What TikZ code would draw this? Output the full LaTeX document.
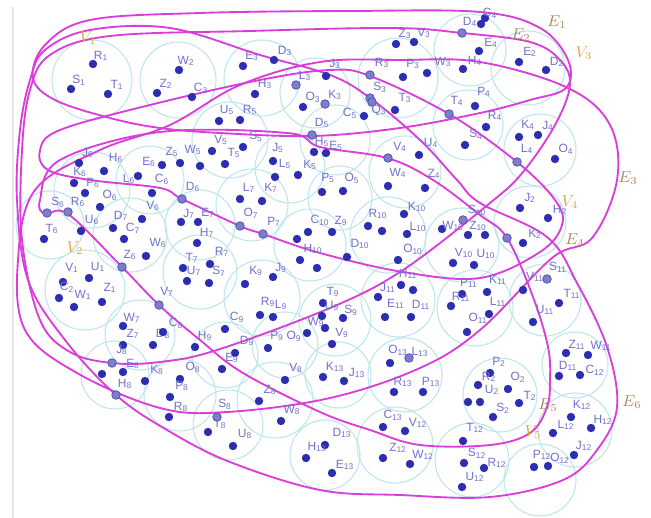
\documentclass[tikz,border=0pt]{standalone}
\usepackage{fontspec}
\setsansfont{Liberation Sans}
\begin{document}
\begin{tikzpicture}[
  x=0.2mm, y=-0.2mm,
  cell/.style={draw=cellcyan,line width=.6pt},
  hedge/.style={draw=hypermag,line width=1.05pt},
  vtx/.style={fill=vblue},
  vtxon/.style={fill=vlight,draw=vblue!85,line width=.4pt},
  vlabel/.style={font=\sffamily\fontsize{6.8}{7}\selectfont,text=vtext,inner sep=0pt},
  elabel/.style={font=\small,text=ebrown,inner sep=0pt},
  clabel/.style={font=\small,text=vorange,inner sep=0pt}
]

\definecolor{cellcyan}{RGB}{188,230,234}
\definecolor{hypermag}{RGB}{218,62,218}
\definecolor{vblue}{RGB}{45,45,175}
\definecolor{vlight}{RGB}{125,125,200}
\definecolor{vtext}{RGB}{112,112,205}
\definecolor{ebrown}{RGB}{172,136,96}
\definecolor{vorange}{RGB}{226,166,62}

\useasboundingbox (0,0) rectangle (651,518);
\fill[white] (0,0) rectangle (651,518);
\draw[black!10,line width=1pt] (13,7) -- (13,518);

% cells
\foreach \cx/\cy/\r in {92/80/40, 178/80/38, 262/78/38, 315/93/35, 398/78/40,
  470/50/36, 528/68/37, 468/125/35, 540/150/36, 230/140/38, 335/140/35,
  290/168/35, 405/172/36, 340/198/32, 92/190/38, 150/180/34, 50/225/34,
  130/235/37, 200/225/35, 252/205/36, 310/245/36, 388/235/38, 462/245/37,
  530/222/36, 85/290/40, 200/272/37, 262/298/38, 335/320/36, 398/300/37,
  475/308/38, 545/300/36, 140/335/35, 115/375/34, 180/395/36, 228/425/35,
  225/355/33, 275/400/38, 338/375/33, 405/375/37, 395/445/38, 325/455/35,
  472/460/37, 500/395/37, 575/365/33, 575/430/37, 540/480/36, 285/345/33}
  \draw[cell] (\cx,\cy) circle (\r);

% hyperedges
% E1: long flat loop along the top
\draw[hedge] plot[smooth cycle,tension=.6] coordinates {(33,78) (45,45) (90,20)
  (200,13) (350,11) (480,12) (540,28) (568,60) (566,88) (530,100) (480,113)
  (400,128) (313,136) (220,133) (160,128) (110,118) (55,100)};
% E2: from the top right corner down to the lower left
\draw[hedge] plot[smooth cycle,tension=.6] coordinates {(30,90) (50,55)
  (110,36) (250,31) (393,28) (462,33) (530,42) (560,60) (570,85) (555,125)
  (523,172) (490,203) (403,270) (330,308) (217,350) (160,362) (112,363)
  (70,352) (40,320) (22,240) (22,150)};
% E3
\draw[hedge] plot[smooth cycle,tension=.6] coordinates {(18,260) (35,190)
  (100,150) (170,125) (240,85) (320,62) (400,60) (480,62) (568,88) (610,125)
  (617,180) (592,238) (552,258) (480,330) (420,368) (330,398) (227,412)
  (160,408) (77,373) (25,330)};
% E4
\draw[hedge] plot[smooth cycle,tension=.6] coordinates {(40,150) (60,130)
  (150,105) (260,80) (330,70) (370,76) (449,114) (517,162) (555,200)
  (562,225) (540,252) (480,278) (403,272) (320,253) (263,234) (240,226)
  (182,199) (160,188) (90,180) (48,170)};
% E5
\draw[hedge] plot[smooth cycle,tension=.6] coordinates {(40,200) (60,160)
  (160,132) (287,133) (320,147) (387,158) (433,180) (480,215) (507,238)
  (533,297) (548,347) (550,380) (547,407) (530,433) (490,445) (420,445)
  (370,430) (320,412) (243,373) (200,340) (159,305) (122,267) (68,214) (45,214)};
% E6: the widest one
\draw[hedge] plot[smooth cycle,tension=.6] coordinates {(30,80) (45,50)
  (90,30) (170,28) (260,55) (330,75) (370,98) (420,140) (457,180) (480,203)
  (547,237) (577,283) (607,347) (617,407) (597,450) (563,480) (490,497)
  (400,495) (320,490) (230,462) (167,430) (116,395) (65,340) (28,280)
  (17,200) (20,130)};

% vertices
\foreach \x/\y/\lx/\ly/\a/\b [count=\k] in {
  93/64/101/56/R/1, 71/89/79/80/S/1, 108/94/117/85/T/1,
  157/93/166/84/Z/2, 179/70/186/61/W/2, 192/97/201/88/C/3,
  243/66/252/56/E/3, 274/60/285/51/D/3, 255/94/265/84/H/3,
  303/107/313/97/O/3, 326/76/335/64/J/3,
  396/44/405/34/Z/3, 414/42/424/33/V/3, 403/77/413/64/P/3,
  427/73/443/62/W/3, 395/110/405/98/T/3,
  481/24/470/22/D/4, 485/18/490/13/C/4, 479/51/491/43/E/4, 463/69/475/61/H/4,
  519/62/530/52/E/2, 546/70/557/62/D/2,
  475/106/484/92/P/4, 486/127/495/116/R/4, 465/145/476/134/S/4,
  519/137/528/125/K/4, 538/135/548/126/J/4, 555/159/566/149/O/4,
  219/121/227/110/U/5, 240/120/250/110/R/5, 212/151/221/140/V/5,
  225/164/234/153/T/5, 243/147/256/136/S/5,
  162/165/149/162/E/6, 180/163/172/152/Z/5, 200/166/193/150/W/5,
  364/116/350/113/C/5, 314/152/322/142/H/5, 326/153/336/146/E/5,
  273/161/278/148/J/5, 275/177/285/164/L/5, 298/175/310/165/K/5,
  322/192/328/178/P/5, 343/191/352/178/O/5,
  419/155/431/143/U/4, 388/186/398/173/W/4, 425/188/434/174/Z/4,
  79/163/88/153/J/6, 104/171/116/158/H/6, 74/183/80/172/K/6,
  85/193/93/183/P/6, 100/207/110/195/O/6, 138/176/129/179/L/6,
  152/193/162/179/C/6, 142/219/153/206/V/6,
  113/228/121/216/D/7, 124/239/133/228/C/7, 146/256/158/243/W/6,
  44/239/52/229/T/6, 81/231/92/220/U/6,
  181/222/189/214/J/7, 198/222/208/213/E/7, 197/243/207/233/H/7,
  240/199/249/188/L/7, 262/201/271/188/K/7,
  183/268/192/258/T/7, 187/281/194/271/U/7, 210/264/222/252/R/7,
  209/283/219/271/S/7,
  245/284/256/271/K/9, 273/277/281/268/J/9, 260/315/268/302/R/9,
  273/317/281/305/L/9, 225/329/237/317/C/9, 195/347/205/336/H/9,
  235/353/247/341/D/9, 268/348/277/336/P/9, 307/333/294/336/O/9,
  222/369/232/358/E/9,
  180/379/193/367/O/8, 170/397/182/386/P/8, 169/417/181/407/R/8,
  208/432/220/424/T/8, 233/446/245/434/U/8,
  285/380/296/368/V/8, 259/401/270/390/Z/8, 281/421/292/410/W/8,
  145/381/157/370/K/8, 123/372/133/364/E/8,
  123/326/132/318/W/7, 123/345/133/334/Z/7, 153/345/163/334/D/8,
  163/332/176/323/C/8,
  63/282/72/268/V/1, 89/278/98/267/U/1, 59/298/67/287/C/2,
  74/307/83/295/W/1, 102/302/110/288/Z/1,
  308/232/320/220/C/10, 300/260/313/249/H/10, 332/232/341/221/Z/9,
  368/226/378/214/R/10, 404/214/417/207/K/10, 407/234/418/227/L/10,
  347/257/360/244/D/10, 398/260/413/249/O/10,
  442/229/453/226/W/10, 468/235/478/226/Z/10,
  453/263/464/253/V/10, 474/265/486/254/U/10,
  520/208/530/198/J/2, 548/218/560/210/H/2, 523/243/535/234/K/2,
  323/303/333/292/T/9, 322/316/332/306/U/9, 325/328/316/322/W/9,
  343/318/351/310/S/9, 332/344/342/333/V/9,
  401/285/408/274/H/11, 378/297/388/288/J/11,
  385/317/396/304/E/11, 411/317/421/305/D/11,
  462/294/469/283/P/11, 451/306/461/297/R/11, 487/292/498/280/K/11,
  489/314/498/302/L/11, 467/332/478/318/O/11,
  523/290/535/277/V/11, 559/303/572/294/T/11, 533/322/545/310/U/11,
  566/353/577/345/Z/11, 588/355/601/346/W/11,
  559/376/568/366/D/11, 580/375/595/370/C/12,
  490/373/499/362/P/2, 478/385/489/377/R/2, 480/402/492/390/U/2,
  508/389/518/377/O/2, 519/403/530/396/T/2, 493/417/503/408/S/2,
  571/417/582/405/K/12, 591/428/603/420/H/12, 553/433/566/425/L/12,
  574/455/584/446/J/12, 548/466/560/458/O/12, 534/467/542/455/P/12,
  484/468/497/463/R/12, 463/441/475/428/T/12, 464/463/477/453/S/12,
  462/487/475/477/U/12,
  390/363/398/350/O/13, 394/392/403/382/R/13, 423/392/431/382/P/13,
  323/377/335/367/K/13, 344/381/357/373/J/13,
  383/427/393/415/C/13, 405/431/418/423/V/12,
  383/458/398/448/Z/12, 410/464/423/455/W/12,
  325/445/342/433/D/13, 306/458/317/447/H/13, 332/473/345/465/E/13}
{
  \fill[vtx] (\x,\y) circle (4.2);
  \node[vlabel] (v\k) at (\lx,\ly) {\a\textsubscript{\b}};
}

% vertices lying on a hyperedge
\foreach \x/\y/\lx/\ly/\a/\b [count=\k] in {
  296/85/305/76/L/3, 325/104/335/95/K/3, 370/75/382/63/R/3,
  370/98/380/87/S/3, 372/102/379/110/Q/3, 449/114/457/101/T/4,
  517/162/527/149/L/4, 312/135/322/123/D/5, 388/158/400/147/V/4,
  47/213/58/202/S/6, 68/212/78/202/R/6, 122/267/130/255/Z/6,
  182/199/193/187/D/6, 240/226/251/213/O/7, 263/234/274/222/P/7,
  159/305/167/292/V/7, 463/220/477/210/S/10, 547/279/558/267/S/11,
  112/363/122/350/J/8, 116/395/125/384/H/8, 217/417/225/404/S/8,
  409/358/420/352/L/13}
{
  \filldraw[vtxon] (\x,\y) circle (4.3);
  \node[vlabel] (w\k) at (\lx,\ly) {\a\textsubscript{\b}};
}
\foreach \x/\y in {297/239, 317/268, 382/231, 485/235, 413/290, 468/402, 102/374}
  \fill[vtx] (\x,\y) circle (4.2);
\foreach \x/\y in {462/33, 507/238}
  \filldraw[vtxon] (\x,\y) circle (4.3);

% edge and cell names
\node[elabel] (e1) at (557,22) {$E_1$};
\node[elabel] (e2) at (521,35) {$E_2$};
\node[elabel] (e3) at (628,178) {$E_3$};
\node[elabel] (e4) at (575,240) {$E_4$};
\node[elabel] (e5) at (548,405) {$E_5$};
\node[elabel] (e6) at (632,402) {$E_6$};
\node[clabel] (c1) at (88,38) {$V_1$};
\node[clabel] (c2) at (75,248) {$V_2$};
\node[clabel] (c3) at (584,53) {$V_3$};
\node[clabel] (c4) at (570,202) {$V_4$};
\node[clabel] (c5) at (533,432) {$V_5$};

\end{tikzpicture}
\end{document}
